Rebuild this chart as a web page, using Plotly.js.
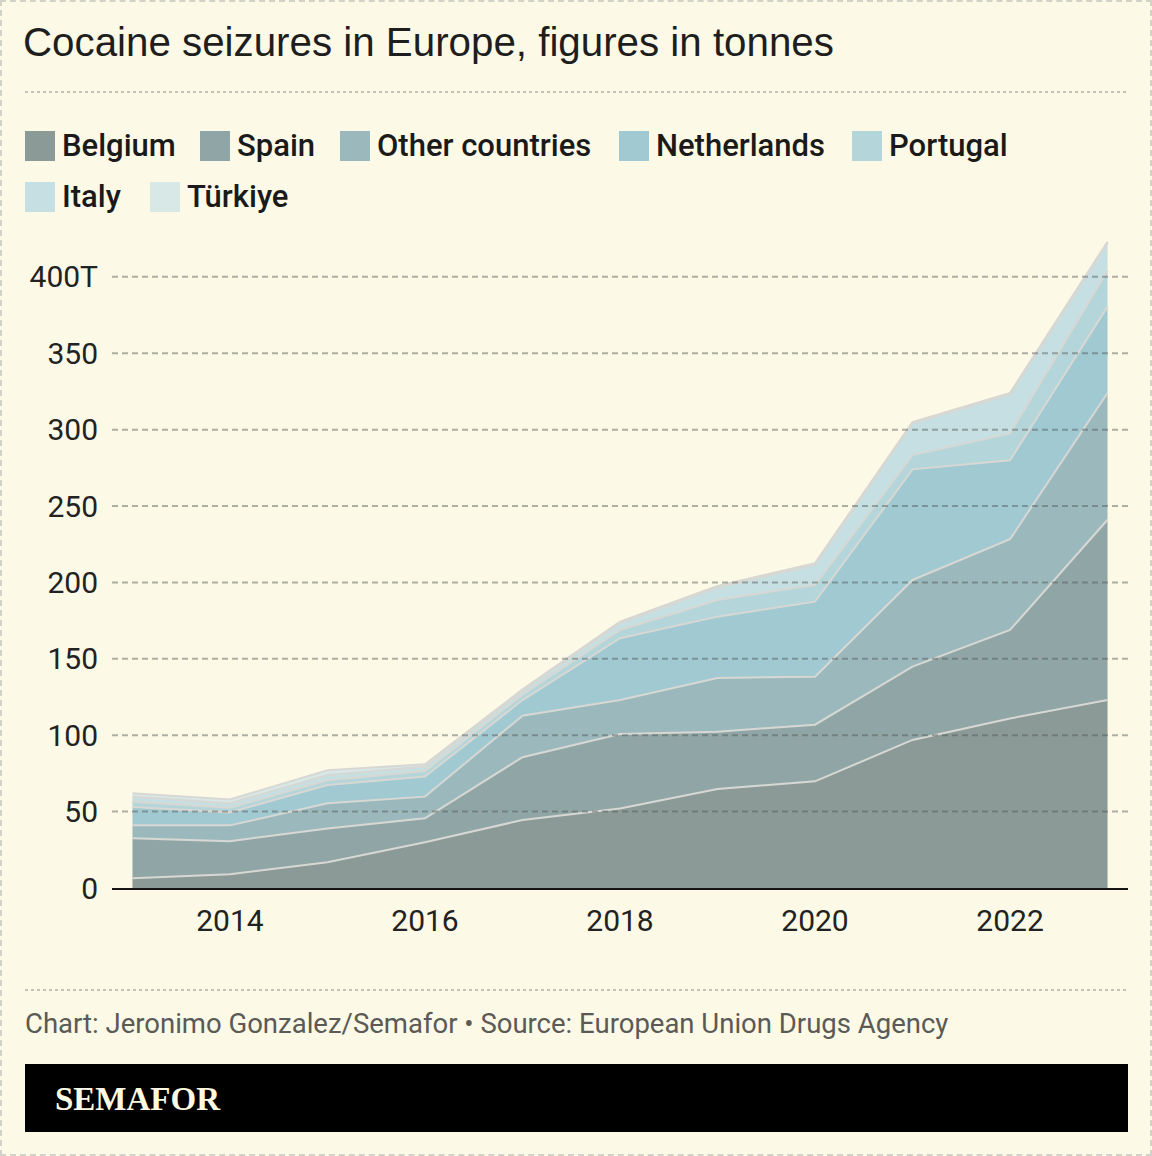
<!DOCTYPE html>
<html>
<head>
<meta charset="utf-8">
<script src="https://cdn.plot.ly/plotly-3.0.1.min.js"></script>
<style>
  html, body { margin: 0; padding: 0; background: #fcf9e6; }
  #wrap { position: relative; width: 1152px; height: 1156px; }
  #chart { width: 1152px; height: 1156px; }
  #frame {
    position: absolute; left: 0; top: 0; width: 1148px; height: 1152px;
    border: 2px dashed #d3d2c9; pointer-events: none;
  }
</style>
</head>
<body>
<div id="wrap">
  <div id="chart"></div>
  <div id="frame"></div>
</div>
<script>
// Cocaine seized per country, tonnes
const years = [2013, 2014, 2015, 2016, 2017, 2018, 2019, 2020, 2021, 2022, 2023];
const belgium     = [6.3, 9.0, 16.8, 29.9, 44.5, 52.0, 64.8, 69.8, 96.9, 111.0, 123.0];
const spain       = [26.2, 21.6, 22.2, 15.7, 41.1, 48.8, 37.5, 37.1, 48.0, 57.9, 118.0];
const other       = [8.5, 10.4, 16.4, 14.2, 27.2, 22.2, 35.2, 31.4, 56.7, 59.4, 83.0];
const netherlands = [12.0, 8.5, 12.0, 13.1, 10.2, 40.5, 40.1, 49.1, 72.4, 51.7, 56.5];
const portugal    = [3.5, 3.0, 3.1, 3.6, 3.5, 5.4, 10.9, 11.0, 9.3, 17.5, 23.5];
const italy       = [3.2, 3.0, 3.5, 3.0, 2.5, 4.4, 8.2, 13.2, 20.7, 25.5, 18.0];
const turkiye     = [2.3, 2.5, 3.0, 1.5, 1.0, 1.0, 1.0, 1.0, 1.0, 1.0, 1.0];

const seriesNames  = ['Belgium', 'Spain', 'Other countries', 'Netherlands', 'Portugal', 'Italy', 'Türkiye'];
const seriesValues = [belgium, spain, other, netherlands, portugal, italy, turkiye];

const yTickVals  = [0, 50, 100, 150, 200, 250, 300, 350, 400];
const yTickText  = ['0', '50', '100', '150', '200', '250', '300', '350', '400T'];
const xTickVals  = [2014, 2016, 2018, 2020, 2022];
const xTickText  = ['2014', '2016', '2018', '2020', '2022'];

const titleText  = 'Cocaine seizures in Europe, figures in tonnes';
const sourceText = 'Chart: Jeronimo Gonzalez/Semafor • Source: European Union Drugs Agency';
const brandText  = 'SEMAFOR';

// Styling
const fills = ['#8b9a96', '#90a6a6', '#9bb9bd', '#a0c9d2', '#b4d5da', '#c5dfe2', '#d7e8e7'];
const bg = '#fcf9e6';
const W = 1152, H = 1156;
const M = { l: 112, r: 24, t: 231, b: 268 };
const plotW = W - M.l - M.r, plotH = H - M.t - M.b;
const px2x = px => (px - M.l) / plotW;
const px2y = py => (H - M.b - py) / plotH;
const sans = 'Roboto, sans-serif';

const traces = seriesNames.map((name, i) => ({
  type: 'scatter',
  mode: 'lines',
  name: name,
  x: years,
  y: seriesValues[i],
  stackgroup: 'one',
  fillcolor: fills[i],
  line: { color: '#d7d8d3', width: 2 },
  hoverinfo: 'skip'
}));

const shapes = [];
const annotations = [];

// dashed separators
[92, 990].forEach(py => shapes.push({
  type: 'line', xref: 'paper', yref: 'paper',
  x0: px2x(25), x1: px2x(1128), y0: px2y(py), y1: px2y(py),
  line: { color: '#c4c3ba', width: 2, dash: '3px,3px' }
}));

// gridlines over the areas
yTickVals.filter(v => v > 0).forEach(v => shapes.push({
  type: 'line', xref: 'paper', yref: 'y', layer: 'above',
  x0: 0, x1: 1, y0: v, y1: v,
  line: { color: 'rgba(80,85,82,0.45)', width: 2, dash: '6px,4px' }
}));

// legend
const legendPos = [[25, 146], [200, 146], [340, 146], [619, 146], [852, 146], [25, 197], [150, 197]];
seriesNames.forEach((name, i) => {
  const [sx, sy] = legendPos[i];
  shapes.push({
    type: 'rect', xref: 'paper', yref: 'paper',
    x0: px2x(sx), x1: px2x(sx + 30), y0: px2y(sy - 15), y1: px2y(sy + 15),
    fillcolor: fills[i], line: { width: 0 }
  });
  annotations.push({
    xref: 'paper', yref: 'paper', x: px2x(sx + 35), y: px2y(sy),
    xanchor: 'left', yanchor: 'middle', showarrow: false,
    text: name, font: { family: sans, size: 31, weight: 500, color: '#1a1a1a' }
  });
});

// source line
annotations.push({
  xref: 'paper', yref: 'paper', x: px2x(23), y: px2y(1023),
  xanchor: 'left', yanchor: 'middle', showarrow: false,
  text: sourceText, font: { family: sans, size: 27.5, color: '#5a5a56' }
});

// brand bar
shapes.push({
  type: 'rect', xref: 'paper', yref: 'paper',
  x0: px2x(25), x1: px2x(1128), y0: px2y(1132), y1: px2y(1064),
  fillcolor: '#000000', line: { width: 0 }
});
annotations.push({
  xref: 'paper', yref: 'paper', x: px2x(53), y: px2y(1099),
  xanchor: 'left', yanchor: 'middle', showarrow: false,
  text: '<b>' + brandText + '</b>',
  font: { family: 'Liberation Serif, serif', size: 33, color: '#fcf9e2' }
});

const layout = {
  width: W, height: H,
  margin: M,
  paper_bgcolor: bg, plot_bgcolor: bg,
  showlegend: false,
  title: {
    text: titleText,
    xref: 'container', yref: 'container',
    x: 23 / W, xanchor: 'left',
    y: 1 - 42 / H, yanchor: 'middle',
    font: { family: 'Liberation Sans, Arial, sans-serif', size: 40.3, color: '#1e1e1e' }
  },
  xaxis: {
    range: [2012.79, 2023.21],
    tickvals: xTickVals, ticktext: xTickText,
    showgrid: false, zeroline: false,
    showline: true, linecolor: '#151515', linewidth: 2,
    ticks: '', ticklabelstandoff: 5,
    tickfont: { family: sans, size: 30, color: '#222' },
    fixedrange: true
  },
  yaxis: {
    range: [0, 430],
    tickvals: yTickVals, ticktext: yTickText,
    showgrid: false, zeroline: false, showline: false,
    ticks: '', ticklabelstandoff: 13,
    tickfont: { family: sans, size: 30, color: '#222' },
    fixedrange: true
  },
  shapes: shapes,
  annotations: annotations
};

Plotly.newPlot('chart', traces, layout, { displayModeBar: false, staticPlot: true });
</script>
</body>
</html>
